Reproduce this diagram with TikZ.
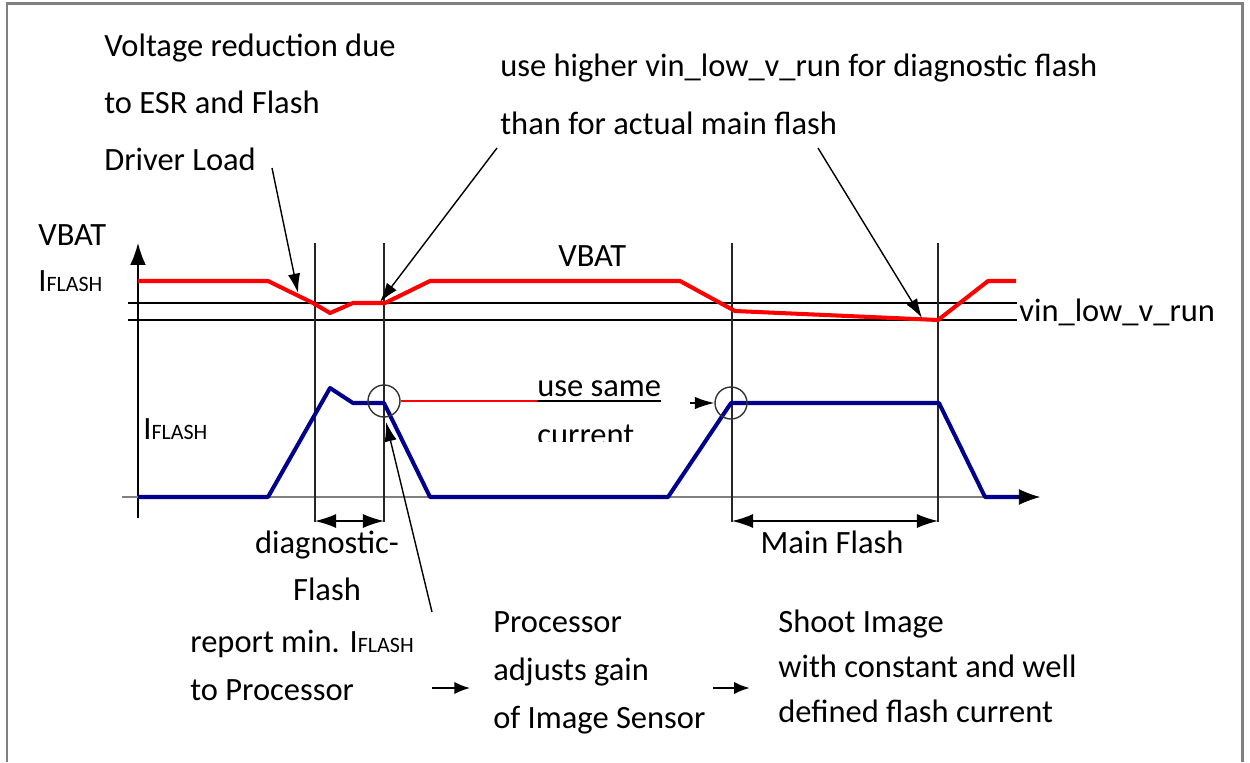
\documentclass[tikz,border=0pt]{standalone}
\usepackage{fontspec}
\setmainfont{Carlito}
\usepackage{xcolor}
\usetikzlibrary{arrows.meta}
\definecolor{flashblue}{RGB}{0,0,140}
\definecolor{framegray}{RGB}{128,128,128}
\newcommand{\iflashtxt}{I{\fontsize{12.5}{12.5}\selectfont FLASH}}

\begin{document}
\begin{tikzpicture}[x=0.02cm,y=-0.02cm,
  every node/.style={font=\fontsize{18.5}{32}\selectfont,inner sep=0pt},
  txtl/.style={anchor=base west,align=left},
  txtc/.style={anchor=base,align=center},
  guide/.style={black,line width=0.8pt},
  marker/.style={black!85,line width=0.8pt},
  vbatline/.style={red,line width=2.3pt,line join=round},
  flashline/.style={flashblue,line width=2.3pt,line join=round},
  pointer/.style={black,line width=0.8pt,-{Latex[length=11pt,width=7pt]}},
  span/.style={black,line width=0.8pt,{Latex[length=12pt,width=8pt]}-{Latex[length=12pt,width=8pt]}},
  ring/.style={circle,draw=black!80,line width=0.8pt,minimum size=32*0.02cm}]
\useasboundingbox (0,0) rectangle (1250,762);
\draw[framegray,line width=1.7pt] (7,762) -- (7,3) -- (1242,3) -- (1242,762);

% axes and levels
\draw[guide,-{Latex[length=12.5pt,width=9pt]}] (138,518) -- (138,243);
\draw[gray,line width=0.8pt] (122,497) -- (1030,497);
\draw[guide] (128,303) -- (1017,303);
\draw[guide] (128,320) -- (1017,320);
\foreach \xm in {315,384,732,938}
  \draw[marker] (\xm,243) -- (\xm,522);

% curves
\draw[vbatline] (138,281) -- (268,281) -- (313,303) -- (330,313) -- (353,303)
  -- (385,303) -- (430,281) -- (680,281) -- (735,311) -- (938,320)
  -- (988,281) -- (1016,281);
\draw[flashline] (138,497) -- (268,497) -- (330,388) -- (353,403) -- (384,403)
  -- (430,497) -- (668,497) -- (731,403) -- (939,403) -- (985,497) -- (1025,497);
\draw[black,-{Latex[length=12pt,width=9pt]}] (1015,497) -- (1040,497);

\node[ring] (c1) at (384,401) {};
\node[ring] (c2) at (731,403) {};

\coordinate (dipvbat) at (298,293);
\coordinate (diagend) at (380,302);
\coordinate (mainend) at (922,318);
\coordinate (diagcur) at (386,422);
\coordinate (d1) at (315,521);
\coordinate (d2) at (384,521);
\coordinate (m1) at (732,521);
\coordinate (m2) at (938,521);
\coordinate (esrtail) at (272,168);
\coordinate (vintail) at (497,148);
\coordinate (maintail) at (818,148);
\coordinate (reptail) at (432,612);

% texts (base = last line)
\node[txtl,font=\fontsize{18.5}{32.3}\selectfont] (esrnote) at (104,170)
  {Voltage reduction due\\to ESR and Flash\\Driver Load};
\node[txtl,font=\fontsize{18.5}{32.9}\selectfont] (vinnote) at (500,134)
  {use higher vin\_low\_v\_run for diagnostic flash\\than for actual main flash};
\node[txtl] (vbatlbl) at (38,245) {VBAT};
\node[txtl] (iflashtop) at (38,291) {\iflashtxt};
\node[txtl] (vbatmid) at (558,266) {VBAT};
\node[txtl] (vinlbl) at (1019,321) {vin\_low\_v\_run};
\node[txtl] (iflashlow) at (143,439) {\iflashtxt};
\node[txtl] (samelbl) at (537,396) {use same};
\begin{scope}
  \clip (530,380) rectangle (700,441);
  \node[txtl] (curlbl) at (537,445) {current};
\end{scope}
\node[txtc,font=\fontsize{18.5}{26.6}\selectfont] (diaglbl) at (327,600) {diagnostic-\\Flash};
\node[txtc] (mainlbl) at (832,553) {Main Flash};
\node[txtl,font=\fontsize{18.5}{27.2}\selectfont] (reportlbl) at (190,700)
  {report min. \iflashtxt\\to Processor};
\node[txtl,font=\fontsize{18.5}{27.2}\selectfont] (proclbl) at (493,728)
  {Processor\\adjusts gain\\of Image Sensor};
\node[txtl,font=\fontsize{18.5}{25.5}\selectfont] (shootlbl) at (778,722)
  {Shoot Image\\with constant and well\\defined flash current};

% connectors
\draw[red,line width=0.6pt] (c1.east) -- (samelbl.base west |- 0,401);
\draw[black,line width=0.6pt] (samelbl.base west |- 0,401) -- (samelbl.base east |- 0,401);
\draw[pointer] (690,403) -- (c2.west);
\draw[pointer] (esrtail) -- (dipvbat);
\draw[pointer] (vintail) -- (diagend);
\draw[pointer] (maintail) -- (mainend);
\draw[pointer] (reptail) -- (diagcur);
\draw[span] (d1) -- (d2);
\draw[span] (m1) -- (m2);
\draw[black,line width=1.2pt,-{Latex[length=9pt,width=7pt]}] (432,688) -- ([xshift=-13pt]proclbl.west |- 0,688);
\draw[black,line width=1.2pt,-{Latex[length=9pt,width=7pt]}] (713,688) -- ([xshift=-16pt]shootlbl.west |- 0,688);
\end{tikzpicture}
\end{document}
